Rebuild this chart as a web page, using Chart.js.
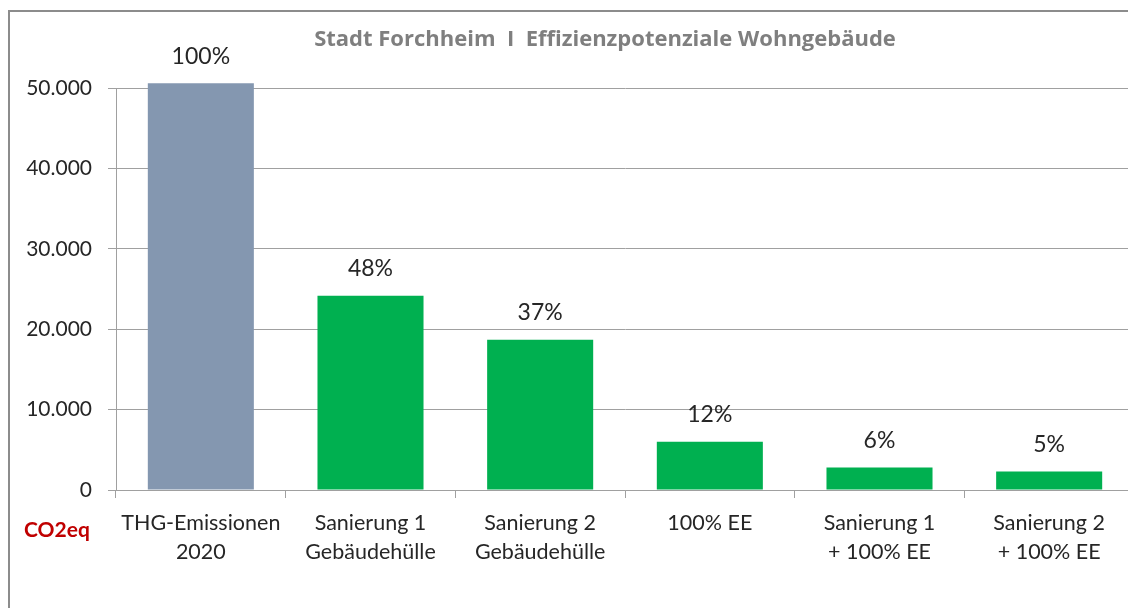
<!DOCTYPE html>
<html>
<head>
<meta charset="utf-8">
<script src="https://cdn.jsdelivr.net/npm/chart.js@4"></script>
<style>
  html, body { margin: 0; padding: 0; background: #fff; overflow: hidden; }
  #wrap { position: relative; width: 1140px; height: 608px; }
  #frame { position: absolute; left: 8px; top: 10px; right: -20px; bottom: -20px; border-left: 2px solid #8c8c8c; border-top: 2px solid #8c8c8c; }
  #title { position: absolute; left: 0; top: 22px; width: 1210px; text-align: center; line-height: 24px;
           font: bold 22px "Open Sans", sans-serif; color: #7f7f7f; white-space: pre; }
  #unit { position: absolute; left: 24px; top: 516px; font: bold 21px Lato, sans-serif; color: #c00000; }
  canvas { position: absolute; left: 0; top: 0; }
</style>
</head>
<body>
<div id="wrap">
  <div id="frame"></div>
  <canvas id="chart" width="1140" height="608"></canvas>
  <div id="title">Stadt Forchheim  I  Effizienzpotenziale Wohngebäude</div>
  <div id="unit">CO2eq</div>
</div>
<script>
// categories (multi-line labels as arrays)
const categories = [
    ['THG-Emissionen', '2020'],
    ['Sanierung 1', 'Gebäudehülle'],
    ['Sanierung 2', 'Gebäudehülle'],
    '100% EE',
    ['Sanierung 1', '+ 100% EE'],
    ['Sanierung 2', '+ 100% EE']
]
// t CO2eq
const emissions = [50600, 24150, 18700, 6000, 2800, 2300]
// share of 2020 shown above each bar
const percentLabels = ['100%', '48%', '37%', '12%', '6%', '5%']
const barColors = ['#8497b0', '#00b050', '#00b050', '#00b050', '#00b050', '#00b050']
const yTicks = [0, 10000, 20000, 30000, 40000, 50000]

// writes the percentages above the bars
const percentPlugin = {
    id: 'percentPlugin',
    afterDatasetsDraw(chart) {
        const ctx = chart.ctx
        const meta = chart.getDatasetMeta(0)
        ctx.save()
        ctx.font = '23px Lato, sans-serif'
        ctx.fillStyle = '#262626'
        ctx.textAlign = 'center'
        ctx.textBaseline = 'middle'
        meta.data.forEach((bar, i) => {
            ctx.fillText(percentLabels[i], bar.x, bar.y - 27)
        })
        ctx.restore()
    }
}

const gridColor = '#a0a0a0'

new Chart(document.getElementById('chart'), {
    type: 'bar',
    data: {
        labels: categories,
        datasets: [{
            data: emissions,
            backgroundColor: barColors,
            categoryPercentage: 1,
            barPercentage: 0.625,
            clip: false
        }]
    },
    options: {
        responsive: false,
        animation: false,
        // top padding leaves room for the html title
        layout: { padding: { left: 0, right: 6, top: 88, bottom: 0 } },
        plugins: {
            legend: { display: false },
            tooltip: { enabled: false },
            title: { display: false }
        },
        scales: {
            x: {
                grid: { display: true, drawOnChartArea: false, color: gridColor, tickLength: 8 },
                border: { color: gridColor },
                ticks: {
                    color: '#262626',
                    padding: 10,
                    maxRotation: 0,
                    autoSkip: false,
                    font: { family: 'Lato, sans-serif', size: 21.5, lineHeight: 1.38 }
                },
                afterFit: s => { s.height = 118 }
            },
            y: {
                min: 0,
                max: 50000,
                afterBuildTicks: s => { s.ticks = yTicks.map(v => ({ value: v })) },
                grid: { color: gridColor, tickLength: 8 },
                border: { color: gridColor },
                ticks: {
                    color: '#262626',
                    padding: 16,
                    font: { family: 'Lato, sans-serif', size: 21 },
                    callback: v => v.toString().replace(/\B(?=(\d{3})+(?!\d))/g, '.')
                },
                afterFit: s => { s.width = 116 }
            }
        }
    },
    plugins: [percentPlugin]
})
</script>
</body>
</html>
